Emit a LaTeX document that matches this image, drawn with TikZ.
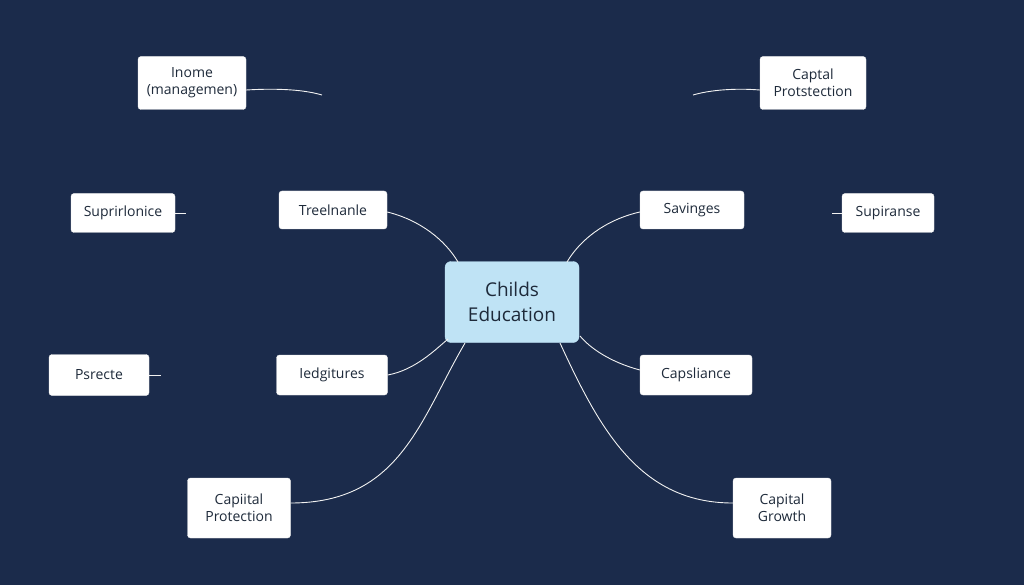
\documentclass[tikz,border=0pt]{standalone}
\usepackage{fontspec}
\setmainfont{Open Sans}
\definecolor{bg}{HTML}{1B2B4B}
\definecolor{cb}{HTML}{BFE3F5}
\definecolor{tx}{HTML}{1E2A3A}
\begin{document}
\begin{tikzpicture}[x=1pt,y=-1pt,
  box/.style={draw=white!85!gray,fill=white,rounded corners=3pt,align=center,text=tx,font=\fontsize{14}{17}\selectfont,inner sep=0pt},
  ln/.style={draw=white!90!gray,line width=0.9pt}]
\fill[bg] (0,0) rectangle (1024,585);
\useasboundingbox (0,0) rectangle (1024,585);
\node[box,minimum width=108pt,minimum height=53pt] (a) at (192,83) {Inome\\(managemen)};
\node[box,minimum width=106pt,minimum height=53pt] (b) at (813,83) {Captal\\Protstection};
\node[box,minimum width=104pt,minimum height=39pt] (c) at (123,213) {Suprirlonice};
\node[box,minimum width=108pt,minimum height=38pt] (d) at (333,210) {Treelnanle};
\node[box,minimum width=104pt,minimum height=38pt] (e) at (692,210) {Savinges};
\node[box,minimum width=92pt,minimum height=39pt] (f) at (888,213) {Supiranse};
\node[box,fill=cb,draw=cb,rounded corners=6pt,minimum width=134pt,minimum height=81pt,font=\fontsize{19}{25}\selectfont] (g) at (512,302) {Childs\\Education};
\node[box,minimum width=100pt,minimum height=41pt] (h) at (99,375) {Psrecte};
\node[box,minimum width=111pt,minimum height=40pt] (i) at (332,375) {Iedgitures};
\node[box,minimum width=112pt,minimum height=40pt] (j) at (696,375) {Capsliance};
\node[box,minimum width=103pt,minimum height=60pt] (k) at (239,508) {Capiital\\Protection};
\node[box,minimum width=98pt,minimum height=60pt] (l) at (782,508) {Capital\\Growth};
\coordinate (a1) at (322,95);
\coordinate (b1) at (693,95);
\coordinate (c1) at (186,213);
\coordinate (f1) at (832,213);
\coordinate (h1) at (161,375);
\draw[ln] (a.east|-0,90) .. controls (280,88) and (305,90) .. (a1);
\draw[ln] (b.west|-0,90) .. controls (735,88) and (710,90) .. (b1);
\draw[ln] (c.east) -- (c1);
\draw[ln] (f.west) -- (f1);
\draw[ln] (h.east) -- (h1);
\draw[ln] (d.east|-0,212) .. controls (420,220) and (445,240) .. (458,262);
\draw[ln] (e.west|-0,212) .. controls (605,220) and (580,240) .. (567,262);
\draw[ln] (i.east) .. controls (415,370) and (435,350) .. (448,339);
\draw[ln] (j.west|-0,370) .. controls (610,362) and (590,348) .. (580,336);
\draw[ln] (k.east|-0,503) .. controls (400,503) and (420,420) .. (465,343);
\draw[ln] (l.west|-0,503) .. controls (640,503) and (600,430) .. (560,343);
\end{tikzpicture}
\end{document}
